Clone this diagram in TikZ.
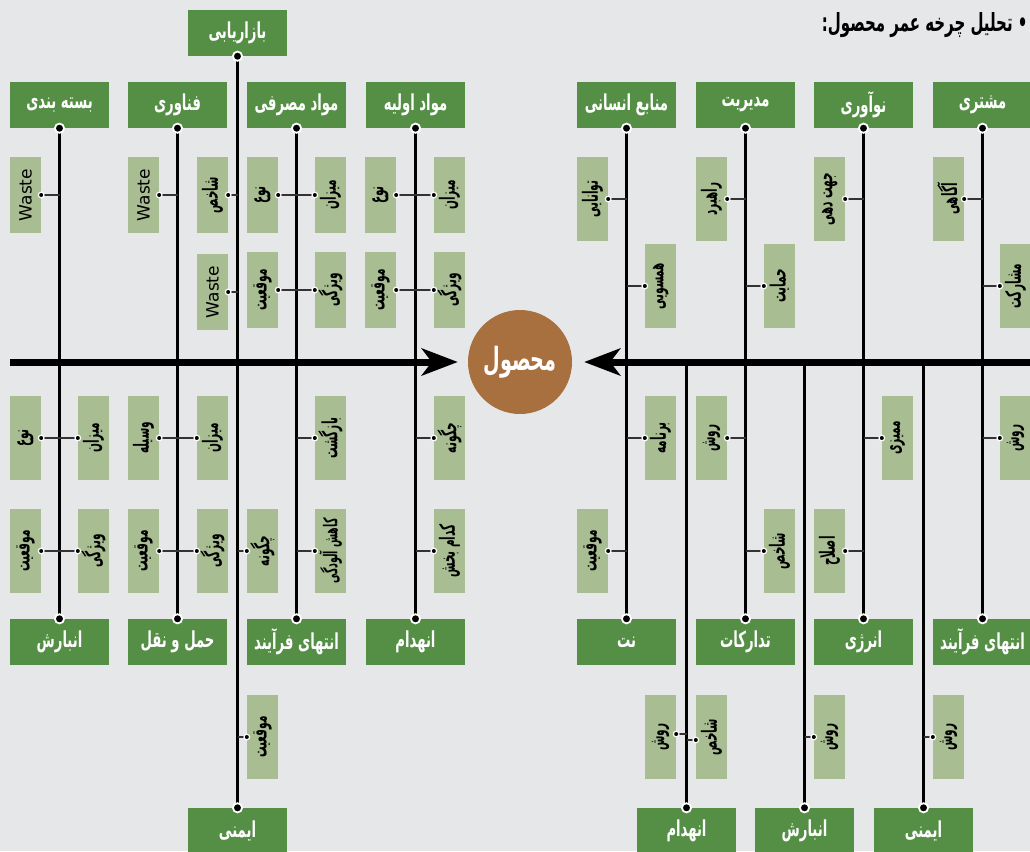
\documentclass[tikz,border=0pt]{standalone}
\usepackage{fontspec}
\usepackage{graphicx}
\usepackage{tikz}
\usetikzlibrary{arrows.meta}
\newfontfamily\fa[Script=Arabic,FakeStretch=0.6]{DejaVu Sans}
\newfontfamily\fan[Script=Arabic,FakeStretch=0.5]{DejaVu Sans}
\TeXXeTstate=1
\definecolor{paper}{HTML}{E6E7E9}
\definecolor{leaf}{HTML}{548F45}
\definecolor{sage}{HTML}{A8BD92}
\definecolor{clay}{HTML}{A86F3F}
\newcommand{\rl}[1]{\beginR #1\endR}
\newcommand{\vt}[1]{\rotatebox{90}{\beginR #1\endR}}

\begin{document}
\begin{tikzpicture}[x=1pt,y=-1pt,
  hdr/.style={fill=leaf,minimum width=99pt,minimum height=46pt,inner sep=0pt,text=white,font=\fa\bfseries\fontsize{22}{24}\selectfont},
  tag/.style={fill=sage,minimum width=31pt,minimum height=84pt,inner sep=0pt,font=\fan\bfseries\fontsize{21}{23}\selectfont},
  tags/.style={tag,minimum height=76pt},
  waste/.style={tags,font=\fontspec{DejaVu Sans}\fontsize{17}{19}\selectfont},
  spine/.style={line width=2.6pt},
  link/.style={line width=1.3pt,black!80},
  pin/.style={fill=black,draw=white,line width=1.8pt},
  dot/.style={fill=black,draw=white,line width=1.2pt}]
\fill[paper] (0,0) rectangle (1030,851);
\useasboundingbox (0,0) rectangle (1030,851);
\node[anchor=east,font=\fa\bfseries\fontsize{25}{27}\selectfont] (title) at (1031,25) {\rl{• تحلیل چرخه عمر محصول:}};
% left headers
\node[hdr] (bast) at (59.5,105) {\rl{بسته بندی}};
\node[hdr] (fana) at (177.5,105) {\rl{فناوری}};
\node[hdr] (masr) at (296.5,105) {\rl{مواد مصرفی}};
\node[hdr] (avva) at (415.5,105) {\rl{مواد اولیه}};
\node[hdr] (bazr) at (237.5,33) {\rl{بازاریابی}};
\node[hdr] (anba) at (59.5,642) {\rl{انبارش}};
\node[hdr] (haml) at (177.5,642) {\rl{حمل و نقل}};
\node[hdr] (enta) at (296.5,642) {\rl{انتهای فرآیند}};
\node[hdr] (enhd) at (415.5,642) {\rl{انهدام}};
\node[hdr] (imni) at (237.5,831) {\rl{ایمنی}};
% right headers
\node[hdr] (nirv) at (626.5,105) {\rl{منابع انسانی}};
\node[hdr] (modi) at (745.5,105) {\rl{مدیریت}};
\node[hdr] (noav) at (863.5,105) {\rl{نوآوری}};
\node[hdr] (mosh) at (982.5,105) {\rl{مشتری}};
\node[hdr] (nt) at (626.5,642) {\rl{نت}};
\node[hdr] (tdar) at (745.5,642) {\rl{تدارکات}};
\node[hdr] (enrj) at (863.5,642) {\rl{انرژی}};
\node[hdr] (entb) at (982.5,642) {\rl{انتهای فرآیند}};
\node[hdr] (enhb) at (686.5,831) {\rl{انهدام}};
\node[hdr] (anbb) at (804.5,831) {\rl{انبارش}};
\node[hdr] (imnb) at (923.5,831) {\rl{ایمنی}};
% left tags, top
\node[waste] (w1) at (25.5,195) {\rotatebox{90}{Waste}};
\node[waste] (w2) at (143.5,195) {\rotatebox{90}{Waste}};
\node[tags] (b1) at (212.5,195) {\vt{شاخص}};
\node[waste] (b2) at (212.5,292) {\rotatebox{90}{Waste}};
\node[tags] (m1) at (262.5,195) {\vt{نوع}};
\node[tags] (m2) at (330.5,195) {\vt{میزان}};
\node[tags] (m3) at (262.5,290) {\vt{موقعیت}};
\node[tags] (m4) at (330.5,290) {\vt{ویژگی}};
\node[tags] (a1) at (380.5,195) {\vt{نوع}};
\node[tags] (a2) at (449.5,195) {\vt{میزان}};
\node[tags] (a3) at (380.5,290) {\vt{موقعیت}};
\node[tags] (a4) at (449.5,290) {\vt{ویژگی}};
% left tags, bottom
\node[tag] (s1) at (25.5,438) {\vt{نوع}};
\node[tag] (s2) at (93.5,438) {\vt{میزان}};
\node[tag] (s3) at (25.5,551) {\vt{موقعیت}};
\node[tag] (s4) at (93.5,551) {\vt{ویژگی}};
\node[tag] (h1) at (143.5,438) {\vt{وسیله}};
\node[tag] (h2) at (212.5,438) {\vt{میزان}};
\node[tag] (h3) at (143.5,551) {\vt{موقعیت}};
\node[tag] (h4) at (212.5,551) {\vt{ویژگی}};
\node[tag] (b3) at (262.5,551) {\vt{چگونه}};
\node[tag] (b4) at (262.5,737) {\vt{موقعیت}};
\node[tag] (e1) at (330.5,438) {\vt{بازگشت}};
\node[tag,font=\fan\bfseries\fontsize{19}{21}\selectfont] (e2) at (330.5,551) {\vt{کاهش آلودگی}};
\node[tag] (d1) at (449.5,438) {\vt{چگونه}};
\node[tag] (d2) at (449.5,551) {\vt{کدام بخش}};
% right tags
\node[tag] (n1) at (592.5,199) {\vt{توانایی}};
\node[tag] (n2) at (660.5,286) {\vt{همسویی}};
\node[tag] (n3) at (660.5,438) {\vt{برنامه}};
\node[tag] (n4) at (592.5,551) {\vt{موقعیت}};
\node[tag] (o1) at (711.5,199) {\vt{راهبرد}};
\node[tag] (o2) at (779.5,286) {\vt{حمایت}};
\node[tag] (o3) at (711.5,438) {\vt{روش}};
\node[tag] (o4) at (779.5,551) {\vt{شاخص}};
\node[tag] (v1) at (829.5,199) {\vt{جهت دهی}};
\node[tag] (v2) at (897.5,438) {\vt{ممیزی}};
\node[tag] (v3) at (829.5,551) {\vt{اصلاح}};
\node[tag] (c1) at (948.5,199) {\vt{آگاهی}};
\node[tag] (c2) at (1015.5,286) {\vt{مشارکت}};
\node[tag] (c3) at (1015.5,438) {\vt{روش}};
\node[tag] (r1) at (660.5,737) {\vt{روش}};
\node[tag] (r2) at (711.5,737) {\vt{شاخص}};
\node[tag] (r3) at (829.5,737) {\vt{روش}};
\node[tag] (r4) at (948.5,737) {\vt{روش}};
% spines
\coordinate (ltail) at (10,362);
\coordinate (rtail) at (1032,362);
\draw[spine] (bast.south) -- (anba.north);
\draw[spine] (fana.south) -- (haml.north);
\draw[spine] (bazr.south) -- (imni.north);
\draw[spine] (masr.south) -- (enta.north);
\draw[spine] (avva.south) -- (enhd.north);
\draw[spine] (nirv.south) -- (nt.north);
\draw[spine] (modi.south) -- (tdar.north);
\draw[spine] (noav.south) -- (enrj.north);
\draw[spine] (mosh.south) -- (entb.north);
\draw[spine] (enhb.north) -- (enhb.north |- rtail);
\draw[spine] (anbb.north) -- (anbb.north |- rtail);
\draw[spine] (imnb.north) -- (imnb.north |- rtail);
% product and main arrows
\node[circle,fill=clay,minimum size=104pt,inner sep=0pt,text=white,font=\fa\bfseries\fontsize{32}{34}\selectfont] (prod) at (520,362) {\rl{محصول}};
\draw[line width=7pt,-{Stealth[length=36pt,width=27pt,inset=10pt]},shorten >=10pt] (ltail) -- (prod.west);
\draw[line width=7pt,-{Stealth[length=36pt,width=27pt,inset=10pt]},shorten >=12pt] (rtail) -- (prod.east);
% links
\draw[link] (w1.east) -- (w1.east -| bast);
\draw[link] (w2.east) -- (w2.east -| fana);
\draw[link] (b1.east) -- (b1.east -| bazr);
\draw[link] (b2.east) -- (b2.east -| bazr);
\draw[link] (m1.east) -- (m2.west);
\draw[link] (m3.east) -- (m4.west);
\draw[link] (a1.east) -- (a2.west);
\draw[link] (a3.east) -- (a4.west);
\draw[link] (s1.east) -- (s2.west);
\draw[link] (s3.east) -- (s4.west);
\draw[link] (h1.east) -- (h2.west);
\draw[link] (h3.east) -- (h4.west);
\draw[link] (b3.west) -- (b3.west -| bazr);
\draw[link] (b4.west) -- (b4.west -| bazr);
\draw[link] (e1.west) -- (e1.west -| masr);
\draw[link] (e2.west) -- (e2.west -| masr);
\draw[link] (d1.west) -- (d1.west -| avva);
\draw[link] (d2.west) -- (d2.west -| avva);
\draw[link] (n1.east) -- (n1.east -| nirv);
\draw[link] (n2.west) -- (n2.west -| nirv);
\draw[link] (n3.west) -- (n3.west -| nirv);
\draw[link] (n4.east) -- (n4.east -| nirv);
\draw[link] (o1.east) -- (o1.east -| modi);
\draw[link] (o2.west) -- (o2.west -| modi);
\draw[link] (o3.east) -- (o3.east -| modi);
\draw[link] (o4.west) -- (o4.west -| modi);
\draw[link] (v1.east) -- (v1.east -| noav);
\draw[link] (v2.west) -- (v2.west -| noav);
\draw[link] (v3.east) -- (v3.east -| noav);
\draw[link] (c1.east) -- (c1.east -| mosh);
\draw[link] (c2.west) -- (c2.west -| mosh);
\draw[link] (c3.west) -- (c3.west -| mosh);
\draw[link] ([yshift=3pt]r1.east) -- ([yshift=3pt]r1.east -| enhb);
\draw[link] ([yshift=-3pt]r2.west) -- ([yshift=-3pt]r2.west -| enhb);
\draw[link] (r3.west) -- (r3.west -| anbb);
\draw[link] (r4.west) -- (r4.west -| imnb);
% dots
\foreach \p in {w1.east,w2.east,b1.east,b2.east,m1.east,m2.west,m3.east,m4.west,a1.east,a2.west,a3.east,a4.west,
  s1.east,s2.west,s3.east,s4.west,h1.east,h2.west,h3.east,h4.west,b3.west,b4.west,e1.west,e2.west,d1.west,d2.west,
  n1.east,n2.west,n3.west,n4.east,o1.east,o2.west,o3.east,o4.west,v1.east,v2.west,v3.east,c1.east,c2.west,c3.west,r3.west,r4.west}
  \draw[dot] (\p) circle (2.8pt);
\draw[dot] ([yshift=3pt]r1.east) circle (2.8pt);
\draw[dot] ([yshift=-3pt]r2.west) circle (2.8pt);
\foreach \p in {bast.south,fana.south,bazr.south,masr.south,avva.south,anba.north,haml.north,enta.north,enhd.north,imni.north,
  nirv.south,modi.south,noav.south,mosh.south,nt.north,tdar.north,enrj.north,entb.north,enhb.north,anbb.north,imnb.north}
  \draw[pin] (\p) circle (4.6pt);
\end{tikzpicture}
\end{document}
